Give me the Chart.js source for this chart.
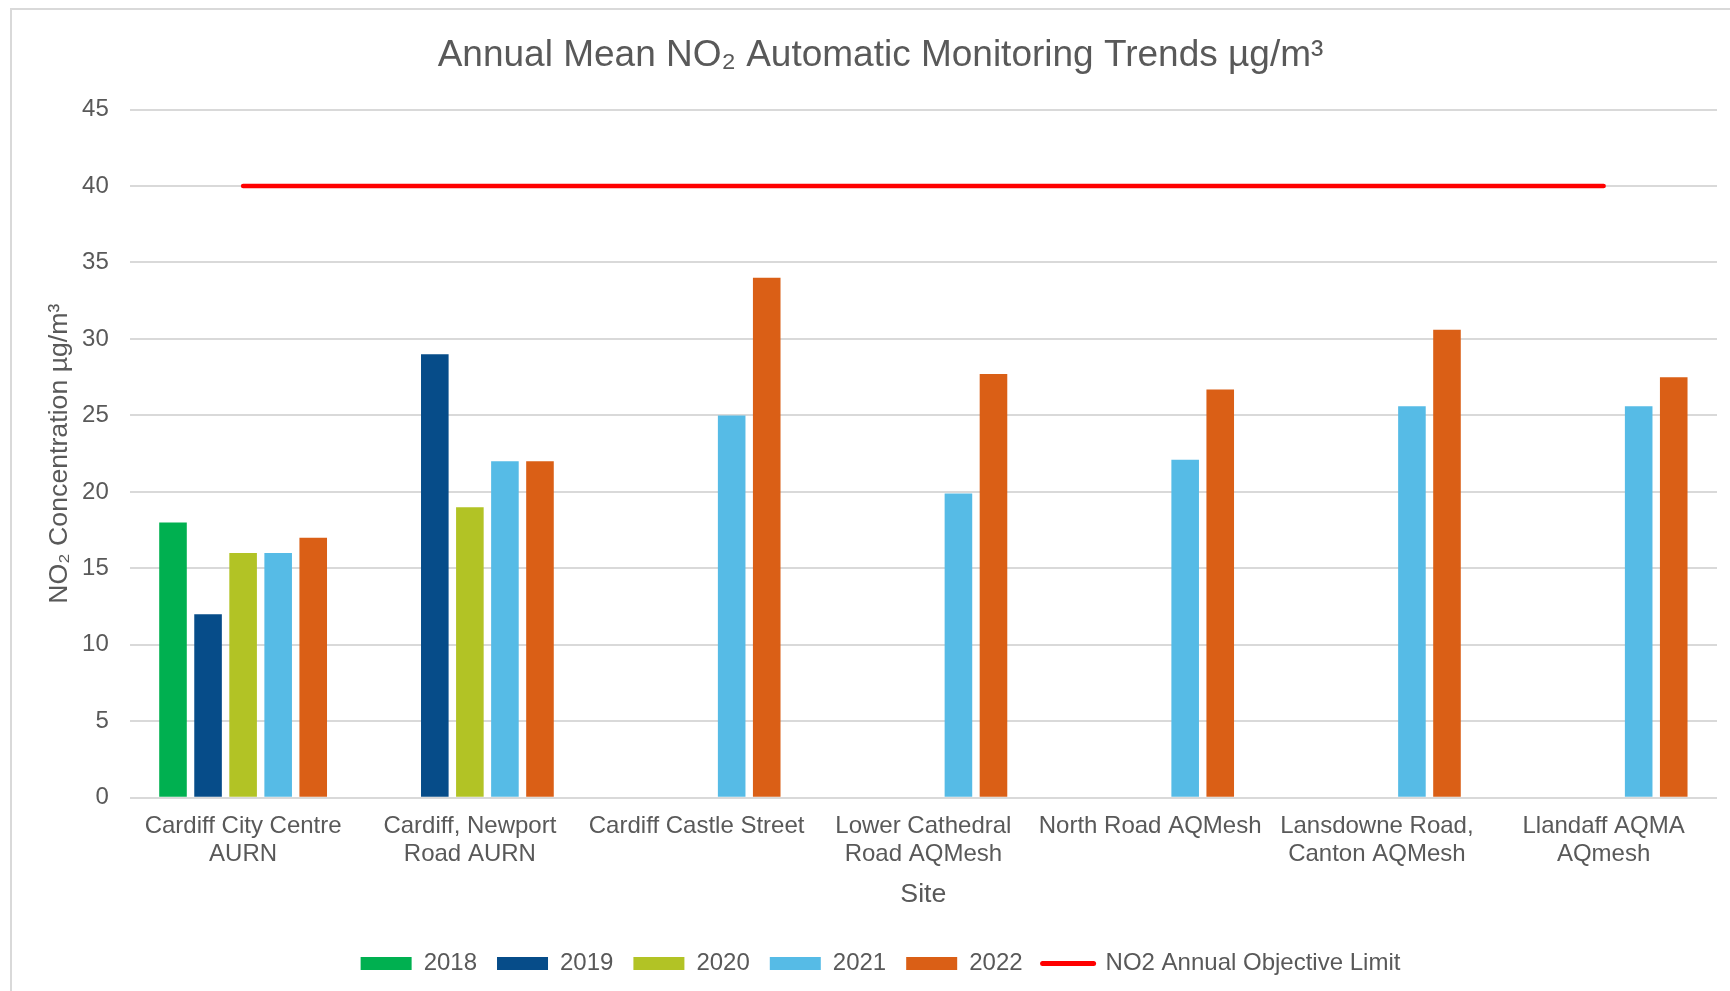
<!DOCTYPE html>
<html>
<head>
<meta charset="utf-8">
<script src="https://cdn.jsdelivr.net/npm/chart.js@4/dist/chart.umd.min.js"></script>
<style>
  html, body { margin: 0; padding: 0; background: #fff; }
  #frame { position: absolute; left: 10px; top: 8px; width: 1760px; height: 1020px;
           border-top: 2px solid #d9d9d9; border-left: 2px solid #d9d9d9; }
  #wrap { position: absolute; left: 0; top: 0; width: 1730px; height: 991px; }
</style>
</head>
<body>
<div id="frame"></div>
<div id="wrap"><canvas id="no2Chart"></canvas></div>
<script>
// sites along the x axis (two-line labels like the original)
var sites = [
  ["Cardiff City Centre", "AURN"],
  ["Cardiff, Newport", "Road AURN"],
  "Cardiff Castle Street",
  ["Lower Cathedral", "Road AQMesh"],
  "North Road AQMesh",
  ["Lansdowne Road,", "Canton AQMesh"],
  ["Llandaff AQMA", "AQmesh"]
];
var years = ["2018", "2019", "2020", "2021", "2022"];

// annual means, ug/m3 (null = no data that year)
var vals2018 = [18, null, null, null, null, null, null];
var vals2019 = [12, 29, null, null, null, null, null];
var vals2020 = [16, 19, null, null, null, null, null];
var vals2021 = [16, 22, 25, 19.9, 22.1, 25.6, 25.6];
var vals2022 = [17, 22, 34, 27.7, 26.7, 30.6, 27.5];
var limitValues = [40, 40, 40, 40, 40, 40, 40];

var yTicks = { min: 0, max: 45, step: 5 };

var colours = ["#00B050", "#064C89", "#B2C325", "#56BBE6", "#DA5F16"];
var txt = "#595959";
var fnt = "'Liberation Sans', Arial, sans-serif";

var yearVals = [vals2018, vals2019, vals2020, vals2021, vals2022];
var sets = [];
for (var i = 0; i < years.length; i++) {
  sets.push({
    type: 'bar',
    label: years[i],
    data: yearVals[i],
    backgroundColor: colours[i],
    borderWidth: 0,
    categoryPercentage: 0.773,
    barPercentage: 0.787
  });
}
sets.push({
  type: 'line',
  label: "NO2 Annual Objective Limit",
  data: limitValues,
  borderColor: "#FF0000",
  backgroundColor: "#FF0000",
  borderWidth: 4.5,
  borderCapStyle: 'round',
  pointRadius: 0,
  fill: false
});

var ctx = document.getElementById("no2Chart");
var no2Chart = new Chart(ctx, {
  type: 'bar',
  data: {
    labels: sites,
    datasets: sets
  },
  options: {
    responsive: true,
    maintainAspectRatio: false,
    animation: false,
    layout: { padding: { left: 44, right: 13, top: 10, bottom: 5.6 } },
    plugins: {
      tooltip: { enabled: false },
      title: {
        display: true,
        text: "Annual Mean NO\u2082 Automatic Monitoring Trends \u00b5g/m\u00b3",
        color: txt,
        font: { family: fnt, size: 37, weight: 'normal' },
        padding: { top: 23.6, bottom: 31.5 }
      },
      legend: {
        position: 'bottom',
        labels: {
          color: txt,
          font: { family: fnt, size: 24 },
          usePointStyle: true,
          pointStyleWidth: 51,
          boxHeight: 13,
          padding: 20,
          generateLabels: function (chart) {
            var items = Chart.defaults.plugins.legend.labels.generateLabels(chart);
            items.forEach(function (it) {
              if (it.datasetIndex === 5) {
                it.pointStyle = 'line';
                it.lineWidth = 5;
                it.lineCap = 'round';
                it.strokeStyle = "#FF0000";
              } else {
                it.pointStyle = 'rect';
                it.lineWidth = 0;
              }
            });
            return items;
          }
        }
      }
    },
    scales: {
      x: {
        grid: { display: false, drawTicks: false },
        border: { display: false },
        ticks: {
          color: txt,
          font: { family: fnt, size: 24, lineHeight: 1.18 },
          padding: 14,
          maxRotation: 0,
          autoSkip: false
        },
        title: {
          display: true,
          text: "Site",
          color: txt,
          font: { family: fnt, size: 26.7 },
          padding: { top: -4.3, bottom: 21.2 }
        }
      },
      y: {
        min: yTicks.min,
        max: yTicks.max,
        border: { display: false },
        grid: { color: "#d9d9d9", lineWidth: 2, drawTicks: false },
        ticks: {
          stepSize: yTicks.step,
          color: txt,
          font: { family: fnt, size: 24 },
          padding: 21
        },
        title: {
          display: true,
          text: "NO\u2082 Concentration \u00b5g/m\u00b3",
          color: txt,
          font: { family: fnt, size: 26.7 },
          padding: { top: 0, bottom: -15 }
        }
      }
    }
  }
});
</script>
</body>
</html>
